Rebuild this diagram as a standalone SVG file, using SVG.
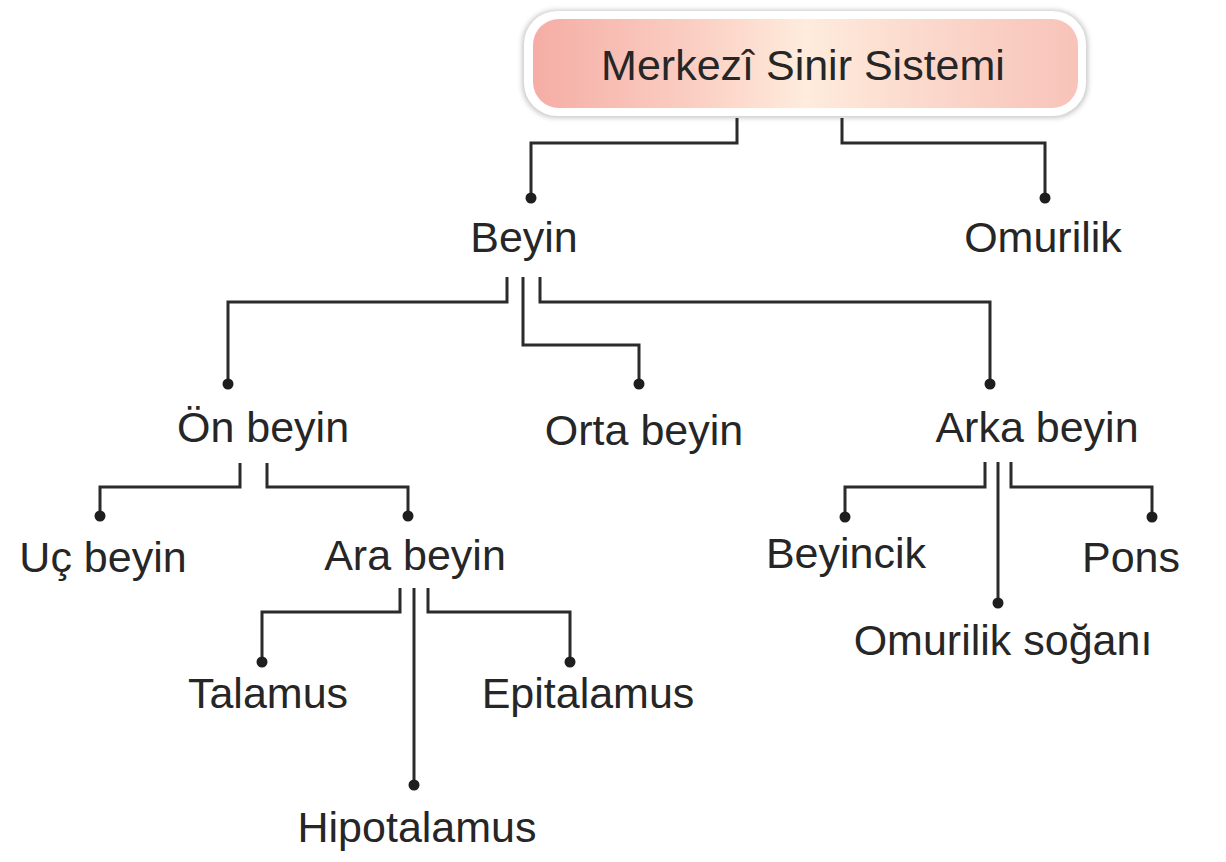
<svg xmlns="http://www.w3.org/2000/svg" width="1226" height="862" viewBox="0 0 1226 862">
<defs>
<style>
.lbl{font-family:"Liberation Sans",Arial,sans-serif;font-size:43px;fill:#262626;text-anchor:middle}
.ln{fill:none;stroke:#2b2b2b;stroke-width:3}
.dot{fill:#1e1e1e}
</style>
<linearGradient id="g" x1="0" y1="0" x2="1" y2="0">
<stop offset="0" stop-color="#f5ada5"/>
<stop offset="0.3" stop-color="#fbcfc3"/>
<stop offset="0.5" stop-color="#feecdc"/>
<stop offset="0.75" stop-color="#fbd6ca"/>
<stop offset="1" stop-color="#f8c3b9"/>
</linearGradient>
<filter id="sh" x="-5%" y="-20%" width="110%" height="140%">
<feGaussianBlur stdDeviation="2.5"/>
</filter>
</defs>
<rect width="1226" height="862" fill="#ffffff"/>
<g id="node-mss">
<rect x="522" y="10" width="566" height="108" rx="34" fill="#c8c8c8" filter="url(#sh)"/>
<rect x="524" y="11" width="562" height="105" rx="33" fill="#ffffff"/>
<rect x="533" y="19" width="545" height="89" rx="26" fill="url(#g)"/>
<text class="lbl" x="803" y="80">Merkezî Sinir Sistemi</text>
</g>
<g id="connectors">
<path class="ln" d="M737 118V143H531V198"/>
<path class="ln" d="M842 118V143H1045V198"/>
<path class="ln" d="M507 277V302H228V384"/>
<path class="ln" d="M523 277V345H639V384"/>
<path class="ln" d="M540 277V302H990V384"/>
<path class="ln" d="M240 463V487H100V516"/>
<path class="ln" d="M267 463V487H408V516"/>
<path class="ln" d="M400 588V612H262V662"/>
<path class="ln" d="M414 588V785"/>
<path class="ln" d="M428 588V612H570V662"/>
<path class="ln" d="M985 462V487H845V517"/>
<path class="ln" d="M998 462V603"/>
<path class="ln" d="M1011 462V487H1152V517"/>
<circle class="dot" cx="531" cy="198" r="5.5"/>
<circle class="dot" cx="1045" cy="198" r="5.5"/>
<circle class="dot" cx="228" cy="384" r="5.5"/>
<circle class="dot" cx="639" cy="384" r="5.5"/>
<circle class="dot" cx="990" cy="384" r="5.5"/>
<circle class="dot" cx="100" cy="516" r="5.5"/>
<circle class="dot" cx="408" cy="516" r="5.5"/>
<circle class="dot" cx="262" cy="662" r="5.5"/>
<circle class="dot" cx="414" cy="785" r="5.5"/>
<circle class="dot" cx="570" cy="662" r="5.5"/>
<circle class="dot" cx="845" cy="517" r="5.5"/>
<circle class="dot" cx="998" cy="603" r="5.5"/>
<circle class="dot" cx="1152" cy="517" r="5.5"/>
</g>
<g id="node-beyin"><text class="lbl" x="524" y="252">Beyin</text></g>
<g id="node-omurilik"><text class="lbl" x="1043" y="252">Omurilik</text></g>
<g id="node-on-beyin"><text class="lbl" x="263" y="442">Ön beyin</text></g>
<g id="node-orta-beyin"><text class="lbl" x="644" y="445">Orta beyin</text></g>
<g id="node-arka-beyin"><text class="lbl" x="1037" y="442">Arka beyin</text></g>
<g id="node-uc-beyin"><text class="lbl" x="103" y="572">Uç beyin</text></g>
<g id="node-ara-beyin"><text class="lbl" x="415" y="570">Ara beyin</text></g>
<g id="node-beyincik"><text class="lbl" x="846" y="568">Beyincik</text></g>
<g id="node-pons"><text class="lbl" x="1131" y="572">Pons</text></g>
<g id="node-omurilik-sogani"><text class="lbl" x="1003" y="655">Omurilik soğanı</text></g>
<g id="node-talamus"><text class="lbl" x="268" y="708">Talamus</text></g>
<g id="node-epitalamus"><text class="lbl" x="588" y="708">Epitalamus</text></g>
<g id="node-hipotalamus"><text class="lbl" x="417" y="842">Hipotalamus</text></g>
</svg>
